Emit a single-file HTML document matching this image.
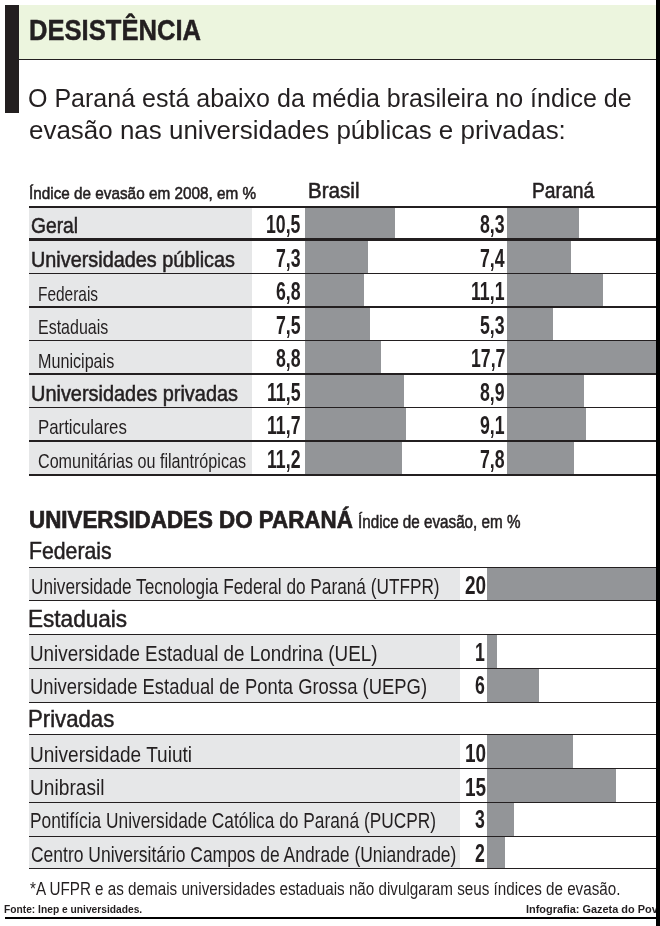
<!DOCTYPE html>
<html lang="pt-BR">
<head>
<meta charset="utf-8">
<title>Desistência</title>
<style>
html,body{margin:0;padding:0;background:#fff;}
body{width:660px;height:926px;overflow:hidden;font-family:"Liberation Sans", sans-serif;color:#231f20;}
.page{position:relative;width:660px;height:926px;overflow:hidden;background:#fff;}
.b{position:absolute;}
.t{position:absolute;white-space:nowrap;line-height:1;transform-origin:0 0;}
</style>
</head>
<body>
<div class="page">
<div class="b" style="left:18.80px;top:5.00px;width:637.20px;height:54.30px;background:#ecf5de"></div>
<div class="b" style="left:18.80px;top:58.60px;width:637.20px;height:1.40px;background:#231f20"></div>
<div class="b" style="left:5.20px;top:5.20px;width:13.60px;height:108.30px;background:#231f20"></div>
<div class="b" style="left:29.00px;top:207.00px;width:223.00px;height:268.20px;background:#e6e7e8"></div>
<div class="b" style="left:305.20px;top:207.00px;width:90.30px;height:32.50px;background:#939598"></div>
<div class="b" style="left:507.30px;top:207.00px;width:71.38px;height:32.50px;background:#939598"></div>
<div class="b" style="left:305.20px;top:239.50px;width:62.78px;height:34.00px;background:#939598"></div>
<div class="b" style="left:507.30px;top:239.50px;width:63.64px;height:34.00px;background:#939598"></div>
<div class="b" style="left:305.20px;top:273.50px;width:58.48px;height:33.50px;background:#939598"></div>
<div class="b" style="left:507.30px;top:273.50px;width:95.46px;height:33.50px;background:#939598"></div>
<div class="b" style="left:305.20px;top:307.00px;width:64.50px;height:33.30px;background:#939598"></div>
<div class="b" style="left:507.30px;top:307.00px;width:45.58px;height:33.30px;background:#939598"></div>
<div class="b" style="left:305.20px;top:340.30px;width:75.68px;height:33.50px;background:#939598"></div>
<div class="b" style="left:507.30px;top:340.30px;width:148.70px;height:33.50px;background:#939598"></div>
<div class="b" style="left:305.20px;top:373.80px;width:98.90px;height:34.00px;background:#939598"></div>
<div class="b" style="left:507.30px;top:373.80px;width:76.54px;height:34.00px;background:#939598"></div>
<div class="b" style="left:305.20px;top:407.80px;width:100.62px;height:33.20px;background:#939598"></div>
<div class="b" style="left:507.30px;top:407.80px;width:78.26px;height:33.20px;background:#939598"></div>
<div class="b" style="left:305.20px;top:441.00px;width:96.32px;height:34.20px;background:#939598"></div>
<div class="b" style="left:507.30px;top:441.00px;width:67.08px;height:34.20px;background:#939598"></div>
<div class="b" style="left:29.00px;top:205.90px;width:627.00px;height:2.20px;background:#231f20"></div>
<div class="b" style="left:29.00px;top:238.40px;width:627.00px;height:2.20px;background:#231f20"></div>
<div class="b" style="left:29.00px;top:272.88px;width:627.00px;height:1.25px;background:#231f20"></div>
<div class="b" style="left:29.00px;top:306.38px;width:627.00px;height:1.25px;background:#231f20"></div>
<div class="b" style="left:29.00px;top:339.68px;width:627.00px;height:1.25px;background:#231f20"></div>
<div class="b" style="left:29.00px;top:372.70px;width:627.00px;height:2.20px;background:#231f20"></div>
<div class="b" style="left:29.00px;top:407.18px;width:627.00px;height:1.25px;background:#231f20"></div>
<div class="b" style="left:29.00px;top:440.38px;width:627.00px;height:1.25px;background:#231f20"></div>
<div class="b" style="left:29.00px;top:474.10px;width:627.00px;height:2.20px;background:#231f20"></div>
<div class="b" style="left:29.00px;top:567.70px;width:431.20px;height:32.80px;background:#e6e7e8"></div>
<div class="b" style="left:487.30px;top:567.70px;width:168.70px;height:32.80px;background:#939598"></div>
<div class="b" style="left:29.00px;top:634.10px;width:431.20px;height:34.00px;background:#e6e7e8"></div>
<div class="b" style="left:487.30px;top:634.10px;width:9.40px;height:34.00px;background:#939598"></div>
<div class="b" style="left:29.00px;top:668.10px;width:431.20px;height:34.20px;background:#e6e7e8"></div>
<div class="b" style="left:487.30px;top:668.10px;width:51.90px;height:34.20px;background:#939598"></div>
<div class="b" style="left:29.00px;top:734.40px;width:431.20px;height:34.30px;background:#e6e7e8"></div>
<div class="b" style="left:487.30px;top:734.40px;width:85.90px;height:34.30px;background:#939598"></div>
<div class="b" style="left:29.00px;top:768.70px;width:431.20px;height:33.90px;background:#e6e7e8"></div>
<div class="b" style="left:487.30px;top:768.70px;width:128.40px;height:33.90px;background:#939598"></div>
<div class="b" style="left:29.00px;top:802.60px;width:431.20px;height:33.50px;background:#e6e7e8"></div>
<div class="b" style="left:487.30px;top:802.60px;width:26.40px;height:33.50px;background:#939598"></div>
<div class="b" style="left:29.00px;top:836.10px;width:431.20px;height:32.80px;background:#e6e7e8"></div>
<div class="b" style="left:487.30px;top:836.10px;width:17.90px;height:32.80px;background:#939598"></div>
<div class="b" style="left:29.00px;top:567.10px;width:627.00px;height:1.20px;background:#231f20"></div>
<div class="b" style="left:29.00px;top:599.90px;width:627.00px;height:1.20px;background:#231f20"></div>
<div class="b" style="left:29.00px;top:633.50px;width:627.00px;height:1.20px;background:#231f20"></div>
<div class="b" style="left:29.00px;top:667.50px;width:627.00px;height:1.20px;background:#231f20"></div>
<div class="b" style="left:29.00px;top:701.70px;width:627.00px;height:1.20px;background:#231f20"></div>
<div class="b" style="left:29.00px;top:733.80px;width:627.00px;height:1.20px;background:#231f20"></div>
<div class="b" style="left:29.00px;top:768.10px;width:627.00px;height:1.20px;background:#231f20"></div>
<div class="b" style="left:29.00px;top:802.00px;width:627.00px;height:1.20px;background:#231f20"></div>
<div class="b" style="left:29.00px;top:835.50px;width:627.00px;height:1.20px;background:#231f20"></div>
<div class="b" style="left:29.00px;top:868.30px;width:627.00px;height:1.20px;background:#231f20"></div>
<span class="t" style="left:28.99px;top:15.00px;font-size:29.6px;font-weight:700;color:#231f20;-webkit-text-stroke:0.50px #231f20;transform:scaleX(0.8645)">DESISTÊNCIA</span>
<span class="t" style="left:28.39px;top:86.00px;font-size:25px;font-weight:400;color:#231f20;transform:scaleX(1.0008)">O Paraná está abaixo da média brasileira no índice de</span>
<span class="t" style="left:29.19px;top:118.00px;font-size:25px;font-weight:400;color:#231f20;transform:scaleX(1.0384)">evasão nas universidades públicas e privadas:</span>
<span class="t" style="left:29.00px;top:185.00px;font-size:17px;font-weight:400;color:#231f20;-webkit-text-stroke:0.55px #231f20;transform:scaleX(0.8996)">Índice de evasão em 2008, em %</span>
<span class="t" style="left:308.33px;top:181.00px;font-size:21.5px;font-weight:400;color:#231f20;-webkit-text-stroke:0.55px #231f20;transform:scaleX(0.9579)">Brasil</span>
<span class="t" style="left:531.79px;top:181.00px;font-size:21.5px;font-weight:400;color:#231f20;-webkit-text-stroke:0.55px #231f20;transform:scaleX(0.8971)">Paraná</span>
<span class="t" style="left:30.95px;top:215.00px;font-size:22.3px;font-weight:400;color:#231f20;-webkit-text-stroke:0.55px #231f20;transform:scaleX(0.8636)">Geral</span>
<span class="t" style="left:266.12px;top:212.00px;font-size:25.3px;font-weight:700;color:#231f20;transform:scaleX(0.7000)">10,5</span>
<span class="t" style="left:480.38px;top:212.00px;font-size:25.3px;font-weight:700;color:#231f20;transform:scaleX(0.7000)">8,3</span>
<span class="t" style="left:30.99px;top:249.00px;font-size:22.3px;font-weight:400;color:#231f20;-webkit-text-stroke:0.55px #231f20;transform:scaleX(0.8897)">Universidades públicas</span>
<span class="t" style="left:275.98px;top:246.00px;font-size:25.3px;font-weight:700;color:#231f20;transform:scaleX(0.7000)">7,3</span>
<span class="t" style="left:480.38px;top:246.00px;font-size:25.3px;font-weight:700;color:#231f20;transform:scaleX(0.7000)">7,4</span>
<span class="t" style="left:37.97px;top:285.00px;font-size:19.8px;font-weight:400;color:#231f20;transform:scaleX(0.7801)">Federais</span>
<span class="t" style="left:275.98px;top:279.00px;font-size:25.3px;font-weight:700;color:#231f20;transform:scaleX(0.7000)">6,8</span>
<span class="t" style="left:470.51px;top:279.00px;font-size:25.3px;font-weight:700;color:#231f20;transform:scaleX(0.7000)">11,1</span>
<span class="t" style="left:37.97px;top:318.00px;font-size:19.8px;font-weight:400;color:#231f20;transform:scaleX(0.8085)">Estaduais</span>
<span class="t" style="left:275.98px;top:313.00px;font-size:25.3px;font-weight:700;color:#231f20;transform:scaleX(0.7000)">7,5</span>
<span class="t" style="left:480.38px;top:313.00px;font-size:25.3px;font-weight:700;color:#231f20;transform:scaleX(0.7000)">5,3</span>
<span class="t" style="left:37.98px;top:352.00px;font-size:19.8px;font-weight:400;color:#231f20;transform:scaleX(0.8158)">Municipais</span>
<span class="t" style="left:275.98px;top:346.00px;font-size:25.3px;font-weight:700;color:#231f20;transform:scaleX(0.7000)">8,8</span>
<span class="t" style="left:470.52px;top:346.00px;font-size:25.3px;font-weight:700;color:#231f20;transform:scaleX(0.7000)">17,7</span>
<span class="t" style="left:30.99px;top:383.00px;font-size:22.3px;font-weight:400;color:#231f20;-webkit-text-stroke:0.55px #231f20;transform:scaleX(0.8932)">Universidades privadas</span>
<span class="t" style="left:267.11px;top:380.00px;font-size:25.3px;font-weight:700;color:#231f20;transform:scaleX(0.7000)">11,5</span>
<span class="t" style="left:480.38px;top:380.00px;font-size:25.3px;font-weight:700;color:#231f20;transform:scaleX(0.7000)">8,9</span>
<span class="t" style="left:37.98px;top:418.00px;font-size:19.8px;font-weight:400;color:#231f20;transform:scaleX(0.8504)">Particulares</span>
<span class="t" style="left:267.11px;top:413.00px;font-size:25.3px;font-weight:700;color:#231f20;transform:scaleX(0.7000)">11,7</span>
<span class="t" style="left:480.38px;top:413.00px;font-size:25.3px;font-weight:700;color:#231f20;transform:scaleX(0.7000)">9,1</span>
<span class="t" style="left:37.99px;top:452.00px;font-size:19.8px;font-weight:400;color:#231f20;transform:scaleX(0.8154)">Comunitárias ou filantrópicas</span>
<span class="t" style="left:267.11px;top:447.00px;font-size:25.3px;font-weight:700;color:#231f20;transform:scaleX(0.7000)">11,2</span>
<span class="t" style="left:480.38px;top:447.00px;font-size:25.3px;font-weight:700;color:#231f20;transform:scaleX(0.7000)">7,8</span>
<span class="t" style="left:28.59px;top:509.00px;font-size:23.2px;font-weight:700;color:#231f20;-webkit-text-stroke:0.70px #231f20;transform:scaleX(0.9642)">UNIVERSIDADES DO PARANÁ</span>
<span class="t" style="left:358.38px;top:513.00px;font-size:18px;font-weight:400;color:#231f20;-webkit-text-stroke:0.55px #231f20;transform:scaleX(0.8454)">Índice de evasão, em %</span>
<span class="t" style="left:28.98px;top:540.00px;font-size:23.4px;font-weight:400;color:#231f20;-webkit-text-stroke:0.50px #231f20;transform:scaleX(0.9078)">Federais</span>
<span class="t" style="left:27.74px;top:608.00px;font-size:23.4px;font-weight:400;color:#231f20;-webkit-text-stroke:0.50px #231f20;transform:scaleX(0.9646)">Estaduais</span>
<span class="t" style="left:27.96px;top:708.00px;font-size:23.4px;font-weight:400;color:#231f20;-webkit-text-stroke:0.50px #231f20;transform:scaleX(0.9477)">Privadas</span>
<span class="t" style="left:31.00px;top:576.00px;font-size:22.4px;font-weight:400;color:#231f20;transform:scaleX(0.7695)">Universidade Tecnologia Federal do Paraná (UTFPR)</span>
<span class="t" style="left:464.69px;top:573.00px;font-size:25.3px;font-weight:700;color:#231f20;transform:scaleX(0.7500)">20</span>
<span class="t" style="left:29.98px;top:643.00px;font-size:22.4px;font-weight:400;color:#231f20;transform:scaleX(0.8408)">Universidade Estadual de Londrina (UEL)</span>
<span class="t" style="left:474.95px;top:640.00px;font-size:25.3px;font-weight:700;color:#231f20;transform:scaleX(0.7000)">1</span>
<span class="t" style="left:29.99px;top:676.00px;font-size:22.4px;font-weight:400;color:#231f20;transform:scaleX(0.8222)">Universidade Estadual de Ponta Grossa (UEPG)</span>
<span class="t" style="left:474.95px;top:673.00px;font-size:25.3px;font-weight:700;color:#231f20;transform:scaleX(0.7000)">6</span>
<span class="t" style="left:29.96px;top:744.00px;font-size:22.4px;font-weight:400;color:#231f20;transform:scaleX(0.8510)">Universidade Tuiuti</span>
<span class="t" style="left:464.69px;top:741.00px;font-size:25.3px;font-weight:700;color:#231f20;transform:scaleX(0.7500)">10</span>
<span class="t" style="left:29.92px;top:777.00px;font-size:22.4px;font-weight:400;color:#231f20;transform:scaleX(0.8559)">Unibrasil</span>
<span class="t" style="left:464.69px;top:775.00px;font-size:25.3px;font-weight:700;color:#231f20;transform:scaleX(0.7500)">15</span>
<span class="t" style="left:29.99px;top:810.00px;font-size:22.4px;font-weight:400;color:#231f20;transform:scaleX(0.7731)">Pontifícia Universidade Católica do Paraná (PUCPR)</span>
<span class="t" style="left:474.95px;top:807.00px;font-size:25.3px;font-weight:700;color:#231f20;transform:scaleX(0.7000)">3</span>
<span class="t" style="left:31.00px;top:844.00px;font-size:22.4px;font-weight:400;color:#231f20;transform:scaleX(0.7804)">Centro Universitário Campos de Andrade (Uniandrade)</span>
<span class="t" style="left:474.95px;top:841.00px;font-size:25.3px;font-weight:700;color:#231f20;transform:scaleX(0.7000)">2</span>
<span class="t" style="left:29.80px;top:879.00px;font-size:19.2px;font-weight:400;color:#231f20;transform:scaleX(0.7931)">*A UFPR e as demais universidades estaduais não divulgaram seus índices de evasão.</span>
<span class="t" style="left:3.99px;top:904.00px;font-size:11.5px;font-weight:700;color:#231f20;transform:scaleX(0.8900)">Fonte: Inep e universidades.</span>
<span class="t" style="left:526.20px;top:904.00px;font-size:11.5px;font-weight:700;color:#231f20;transform:scaleX(0.9500)">Infografia: Gazeta do Povo</span>
<div class="b" style="left:656.00px;top:0.00px;width:4.00px;height:926.00px;background:#000"></div>
<div class="b" style="left:5.20px;top:916.50px;width:654.80px;height:2.10px;background:#000"></div>
</div>
</body>
</html>
